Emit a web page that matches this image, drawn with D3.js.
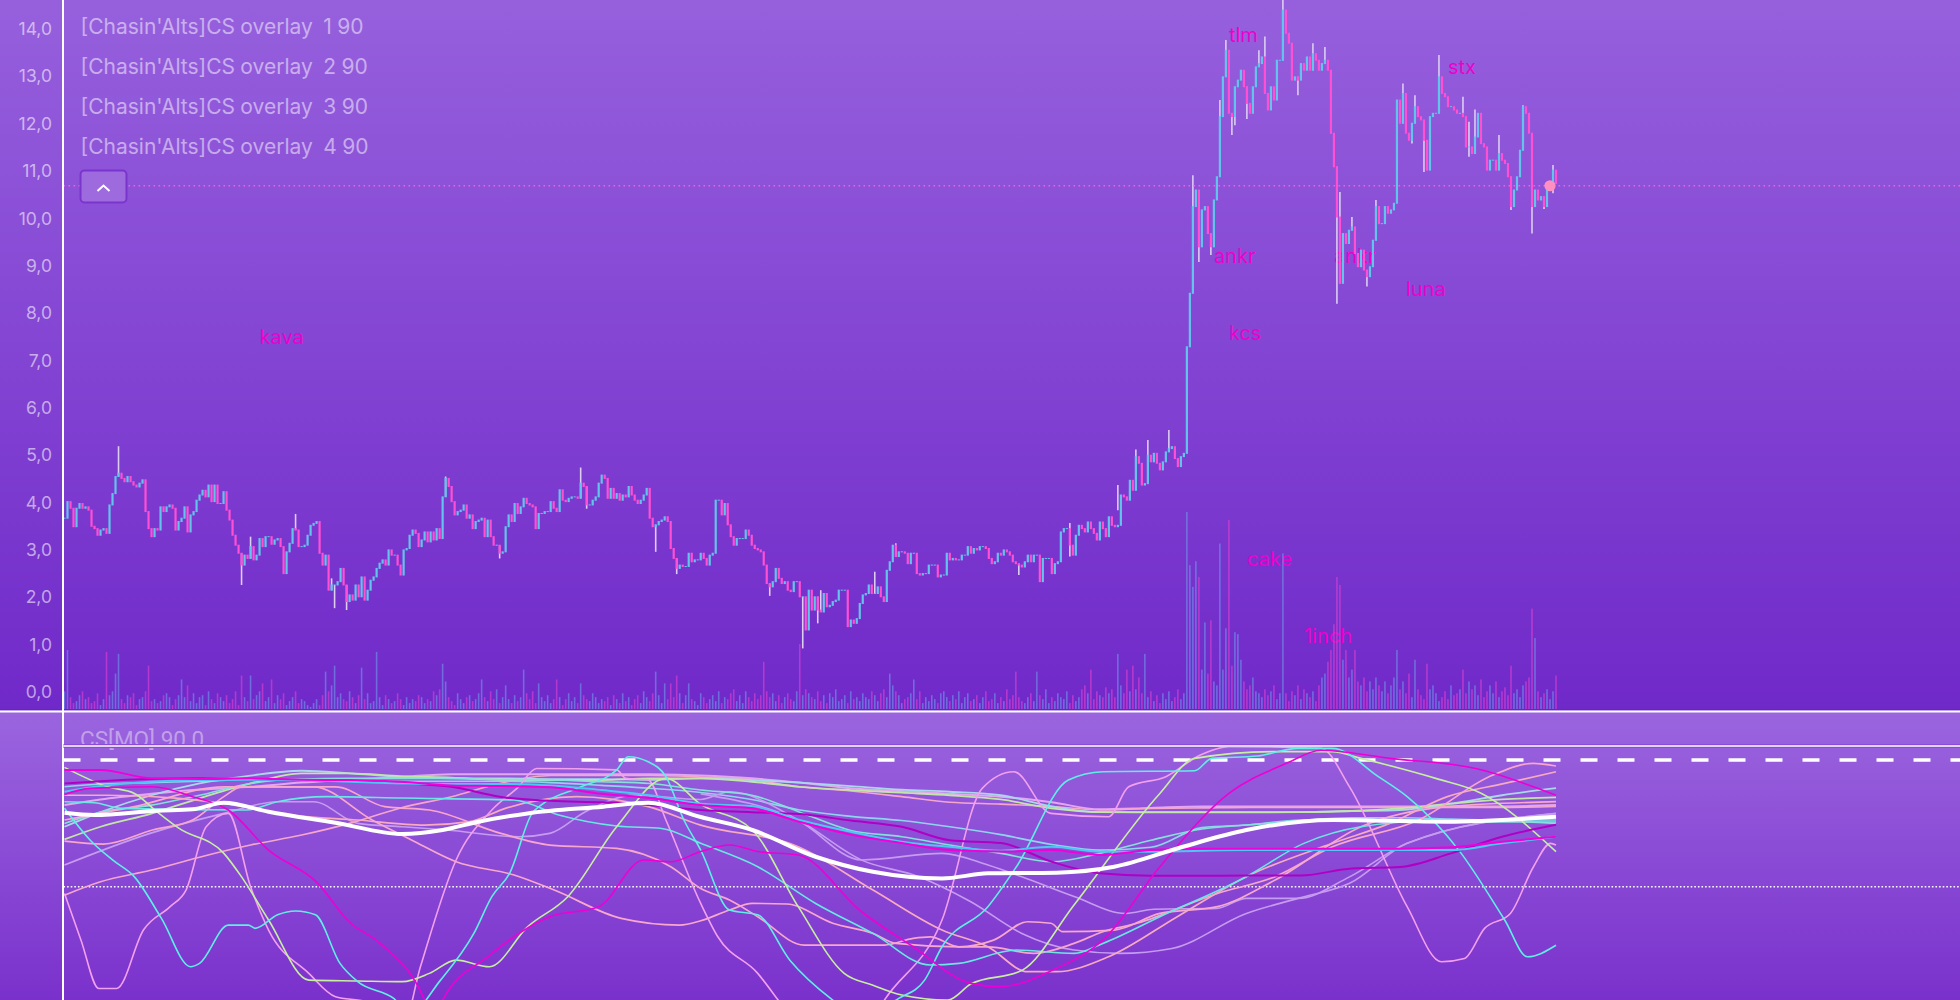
<!DOCTYPE html>
<html><head><meta charset="utf-8">
<script src="https://cdn.jsdelivr.net/npm/d3@7"></script>
<style>html,body{margin:0;padding:0;background:#7a30cc;overflow:hidden}svg{display:block}text{font-family:Inter,"Noto Sans",sans-serif}</style>
</head><body><svg id="c" width="1960" height="1000"></svg>
<script>
// ---------- data ----------
const legendNames=["[Chasin'Alts]CS overlay  1 90","[Chasin'Alts]CS overlay  2 90","[Chasin'Alts]CS overlay  3 90","[Chasin'Alts]CS overlay  4 90"];
const paneTitle="CS[MO] 90 0";
const priceTicks=[0,1,2,3,4,5,6,7,8,9,10,11,12,13,14];
const lastPrice=10.69;
const lastBar=495;
const tagNames=["kava","tlm","stx","ankr","ankr","luna","kcs","cake","1inch"];
const tagBars=[65,388,461,383,423,447,388,394,413];
const tagPrices=[7.5,13.87,13.2,9.2,9.2,8.5,7.58,2.8,1.18];

const closesA=[3.67,4.02,3.88,3.49,3.88,3.98,3.88,3.91,3.84,3.50,3.45,3.31,3.42,3.45,3.35,3.95,4.19,4.55,4.62,4.51,4.44,4.55,4.44,4.37,4.33,4.41,4.48,3.81,3.45,3.28,3.45,3.42,3.91,3.81,3.91,3.95,3.88,3.42,3.60,3.67,3.91,3.38,3.74,3.81,4.05,4.16,4.26,4.12,4.37,4.02,4.37,3.98,3.98,4.23,3.84,3.63,3.31,3.10,2.93,2.68,2.89,2.82,3.07,2.79,2.89,3.24,3.07,3.28,3.28,3.12,3.21,3.24,3.07,2.50,2.96,3.14,3.45,3.42,3.07,3.07,3.10,3.31,3.52,3.56,3.60,2.93,2.68,2.89,2.15,2.26,2.26,2.33,2.61,2.26,1.91,2.05,1.94,2.26,2.01,2.43,1.94,2.15,2.36,2.43,2.61,2.72,2.79,2.68,3.00,2.89,2.89,2.68,2.47];
const closesB=[3.00,3.03,3.31,3.42,3.35,3.07,3.21,3.38,3.17,3.38,3.21,3.45,3.24,4.12,4.51,4.34,4.02,3.74,3.81,3.84,3.95,3.67,3.74,3.45,3.60,3.63,3.67,3.28,3.63,3.28,3.10,3.10,2.93,2.96,3.49,3.74,3.60,3.98,3.77,3.91,4.09,3.98,3.95,3.91,3.45,3.77,3.77,3.81,3.81,4.02,3.88,3.81,4.27,4.05,4.02,4.09,4.12,4.12,4.09,4.41,4.34,3.95,3.95,4.05,4.12,4.41,4.58,4.51,4.09,4.30,4.09,4.19,4.05,4.16,4.12,4.34,4.16,4.05,3.98,4.05,4.16,4.30,3.67,3.49,3.53,3.60,3.63,3.70,3.60,3.03,2.82,2.61,2.68,2.65,2.65,2.93,2.75,2.79,2.79,2.93,2.82,2.68,2.89,2.93,4.05,4.05,3.74,3.98,3.53,3.28,3.10,3.24,3.24,3.24,3.42,3.31,3.10,3.03,3.00,2.96,2.68,2.29,2.22,2.33,2.61,2.40,2.29,2.33,2.15,2.12,2.33,2.33,2.01];
const closesC=[2.01,1.31,2.15,1.73,2.01,1.73,1.69,2.08,1.80,1.83,1.91,1.94,2.15,2.15,2.15,1.38,1.52,1.45,1.55,1.87,2.05,2.08,2.26,2.08,2.08,2.22,2.01,1.91,2.57,2.75,3.10,2.86,2.96,2.96,2.93,2.71,2.93,2.93,2.50,2.47,2.50,2.50,2.68,2.68,2.68,2.43,2.47,2.47,2.93,2.79,2.82,2.79,2.79,2.89,2.89,3.07,2.93,3.03,3.00,3.07,3.07,3.03,2.82,2.71,2.75,2.93,2.89,3.00,2.96,2.89,2.75,2.71,2.68,2.64,2.75,2.89,2.75,2.89,2.89,2.33,2.82,2.82,2.82,2.50,2.71,2.75,3.38,3.45,3.45,3.10,2.89,3.31,3.52,3.45,3.38,3.59,3.45,3.35,3.21,3.59,3.45,3.28,3.70,3.52,3.49,3.52,4.16,4.12,4.05,4.47,4.26,4.97,4.83,4.37,4.40,5.00,4.86,5.04,4.83,4.69,4.86,5.07,5.14,5.18,4.93,4.76,4.97,5.04];
const closesD=[7.29,8.42,10.25,10.60,9.40,10.18,10.25,9.68,9.40,10.39,10.88,12.15,12.99,13.55,12.22,12.15,12.78,12.92,13.13,12.78,12.43,12.22,12.78,13.20,13.27,13.41,12.64,12.29,12.78,12.50,13.34,13.34,14.40,13.91,13.70,12.92,12.99,12.92,13.27,13.13,13.41,13.13,13.48,13.34,13.13,13.27,13.34,13.13,11.80,11.09,10.03,8.63,9.68,9.47,9.75,9.82,9.26,8.98,9.33,8.91,8.77,8.98,9.54,10.25,9.89,9.89,10.25,10.11,10.18,10.32,12.50,12.01,12.64,11.80,11.65,12.01,12.36,12.15,12.08,11.65,11.02,12.15,12.22,12.22,12.99,12.64,12.57,12.36,12.36,12.29,12.22,12.22,12.15,11.51,11.51,11.37,11.72,12.22,11.58,11.51,11.02,11.23,11.23,11.02,11.37,11.23,11.16,10.88,10.25,10.60,10.88,11.44,12.36,12.22,11.80,10.25,10.60,10.39,10.46,10.25,10.60,10.67,11.02,10.74];

const wickBars=[18,59,62,77,89,90,94,127,145,172,174,197,204,235,246,251,252,270,277,318,335,351,357,361,368,376,378,382,385,387,389,390,394,398,400,406,411,416,420,422,424,425,429,434,437,446,449,450,453,458,466,468,470,478,482,483,486,489,493,496];
const wickHighs=[5.19,null,3.28,3.76,2.4,null,null,4.55,null,4.74,null,null,null,null,null,null,2.15,2.54,3.14,null,3.57,4.37,5.12,5.32,5.53,10.91,null,null,12.5,13.77,null,null,null,13.55,13.84,14.61,null,13.7,13.62,12.2,null,10.56,10.03,null,10.39,12.85,null,12.6,null,13.45,12.57,12.04,12.3,11.76,null,null,12.39,null,null,11.13];
const wickLows=[null,2.26,null,null,null,1.77,1.73,null,2.82,null,3.87,2.96,2.49,2.03,0.92,1.45,null,null,null,2.47,2.86,3.84,null,null,null,null,9.08,9.23,11.58,null,11.76,11.97,12.1,null,null,null,12.6,null,null,null,8.2,null,null,8.56,null,null,11.58,null,10.98,null,null,11.3,null,null,10.18,10.4,null,9.68,10.2,10.53];

const volumes=[
9,30,6,3,4,7,9,5,6,3, 4,8,2,5,29,7,9,18,28,5, 3,7,6,8,2,5,6,9,22,4, 5,3,4,7,8,6,2,5,7,15,
6,12,4,8,3,6,7,2,9,5, 3,8,6,4,7,3,5,9,2,17, 6,4,17,5,7,9,13,4,6,15, 3,7,5,8,2,4,6,9,3,5,
4,2,1,3,5,2,7,19,9,12, 22,6,8,5,4,9,6,3,7,21, 5,8,3,4,29,6,2,7,5,3, 4,8,5,2,6,3,5,4,7,6,
3,5,4,9,7,10,23,14,6,4, 2,8,5,3,6,7,4,5,8,15, 6,4,9,5,10,3,6,12,5,3, 7,4,6,20,8,5,9,3,13,6,
4,7,3,5,15,6,2,5,8,4, 6,3,13,7,5,4,8,6,3,5, 4,6,2,7,5,3,8,4,6,2, 5,7,3,9,6,4,8,19,7,3,
13,5,13,6,17,8,3,7,13,5, 4,2,8,6,3,5,7,4,9,3, 6,5,8,10,4,7,3,9,6,4, 8,5,7,24,9,6,8,4,7,3,
6,8,5,4,9,33,7,10,8,6, 5,9,4,7,3,8,6,10,4,5, 7,3,9,5,6,4,8,6,5,9, 7,4,8,10,6,18,12,9,7,3,
5,6,8,15,5,9,3,6,4,7, 5,3,8,9,6,4,7,5,9,3, 6,8,4,5,7,3,6,9,4,5, 8,3,6,4,10,5,7,19,6,4,
3,6,8,4,19,7,5,10,3,6, 4,8,6,5,9,3,7,4,6,10, 12,8,20,5,9,7,6,11,8,10, 6,28,12,8,20,9,22,10,16,8,
28,6,9,4,7,3,8,5,9,4, 6,10,5,8,100,73,62,75,67,20, 44,18,45,14,12,84,20,41,96,22, 39,38,25,14,10,12,16,9,8,6,
10,7,9,12,5,8,79,8,4,9, 7,12,5,10,8,6,9,4,12,16, 18,24,30,43,67,63,25,30,16,20, 30,14,12,16,9,14,10,16,12,9,
14,8,12,16,30,10,14,8,18,6, 25,10,7,5,23,10,12,8,4,6, 9,5,12,7,8,10,20,8,14,10, 12,7,15,6,9,12,8,14,6,9,
11,7,22,8,10,6,12,14,16,51, 36,9,6,8,10,5,9,17];

const csBars=[0,12,29,45,62,79,95,112,129,145,162,179,195,212,229,245,262,279,295,312,329,345,362,379,395,412,429,445,462,479,497];
const csOverbought=90, csOversold=0, csTop=100;
const csCyanABars=[0,8.5,16,23.3,32.3,42,45,54.6,61.3,63.5,71,77,83.6,91.8,97.7,109.7,115,125.3,136.4,142.4,148.3,155.8,158.8,172.2,184,187.8,194.5,200.4,206.4,212,221.6,231,241.7,256,263.7,278,286.6,292.4,307.7,317.2,334.5,346,376.6,382.3,397.6,411,422.5,437.8,447.4,464.6,479.9,487.5,497];
const csCyanA=[55.7,33.2,19,7,-22.5,-56.9,-54.5,-27.3,-27.3,-29.6,-20,-17.3,-20,-54.5,-67.5,-79.4,-90,-66.4,-33.2,-7.1,9.5,52.1,58,71,83,92.4,88.8,78.2,47.4,26,-16.6,-20,-52.2,-80.6,-92,-79.4,-66.4,-42.7,-14.2,14.2,75.8,81.7,82.4,91.2,92.9,98.3,98.3,78.2,64,26,-23.7,-49.8,-41.6];
const csLimeABars=[0,14.4,23.3,30.8,38.2,53.1,59,68,81.4,97.7,112.6,121.6,130.5,141.6,154.3,167.7,184,200.4,212,229.2,244.5,259.8,269.4,279,294.3,302,319.2,336.4,365,376.6,403.3,422.5,432,456.9,472.2,497];
const csLimeA=[84.8,71,66.3,53.3,41.4,23.7,7,-23.7,-66.4,-67,-67.5,-61.6,-52.2,-56.9,-28.5,-7.1,42.6,77,58.5,40.3,-14.2,-61.6,-70,-77,-80.6,-69.2,-59.3,-13,66.3,91.2,96,96,91.2,77,66.3,24.9];
const csOrchidABars=[0,5.5,11.4,17.4,26.3,35.2,40.5,47.2,54.6,62,68,81.4,90.3,100.7,106.7,112.6,118.6,130.5,142.4,151.3,157.3,184,187,194.5,200.4,212,217.7,231,237.8,244.5,267.5,273.2,292.4,305.8,316.3,328.7,347.9,354.6,367,378.5,388,418.7,428.2,447.4,458.8,466.5,473.2,481.8,489.5,495.2,497];
const csOrchidA=[-4.8,-38,-72.3,-72.3,-30.8,-14.2,-2.4,42.6,52.1,0,-30.8,-61.6,-78.2,-81.8,-100,-100,-56.9,19,54.5,71,84,83,77,75.8,47.4,-11.9,-35.6,-61.6,-80.6,-100,-100,-80.6,-23.7,69.9,81.7,52.1,49.7,71,78.2,93.6,99.5,98.3,71,-14.2,-53.3,-51,-29.6,-19,14.2,30.8,29.6];
const csMagentaABars=[0,8.5,29.3,42.7,54.6,68,84.4,94.8,105.2,120,123,126,141,161.7,178,193,202,212,221.6,231,244.5,265.6,282.8,302,311.5,330.6,346,365,388,407.2,418.7,441.6,470.3,497];
const csMagentaA=[65.6,69.9,71,64,54.5,26,2.4,-24.9,-40.3,-80.6,-97,-80.6,-49.8,-21.3,-14.2,19,17.7,25,29.6,25,22.5,-17.8,-42.7,-68.7,-71,-58,-38,14.2,66.3,87.7,97,91.2,84,65];
const csAverageBars=[0,10,30.8,42.7,53.1,68,90.3,112.6,126,137.9,154.3,179.6,194.5,212,229.2,250.3,269.4,292.4,307.7,330.6,349.8,372.7,393.8,422.5,460.8,497];
const csAverage=[52.6,51,54,55,59.7,53.3,45.5,37.4,40.3,46.2,52.1,56.9,59.7,49.5,40.3,21.3,10.6,5.9,9.5,10,14.2,28.4,40.3,47.4,46.2,49.7];
const csPeachABars=[0,13,29.3,42.7,53.1,59,90.3,106.7,121.6,145.4,161.7,184,202,212,221.6,231,246.4,273.2,282.8,288.5,298,307.7,323,336.4,346,357.4,384.2,403.4,422.5,451.2,476,489.5,497];
const csPeachA=[32.4,30.3,40.3,47.4,64,71,71,56.9,54.5,37.9,29.6,27.2,14.2,-1.2,-9.5,-21.3,-41.5,-41.5,-36.7,-35.6,-42.7,-42.7,-47.4,-40.3,-32,-26,-4.8,7.1,28.4,47.4,79.4,87.7,85.8];
const csPeachCBars=[0,14.4,38.2,53.1,75.4,97.7,120,135,146.9,170.7,194.5,212,244.5,269.4,292.4,307.7,321,330.6,347.9,370.8,393.8,422.5,441.6,460.8,479.9,497];
const csPeachC=[65,65,62.8,59.2,50.9,47.4,43.8,46.2,55.7,64,56.9,43.8,28.4,-2.4,-30.8,-42.7,-60.4,-60.4,-49.8,-21.3,7.1,30.8,45,64,73.4,81.7];
const csPeachDBars=[0,23.3,53.1,83,102.5,115.6,130.5,149.8,163.2,185.5,205,212,221.6,229.2,240.7,256,269.4,277,298,309.6,321,328.7,332.6,349.8,365,384.2,403.4,432,460.8,497];
const csPeachD=[47.4,56.9,71,71,47.4,33.2,17.7,8.3,-2.4,-22.5,-27.3,-24.2,-16.6,-11.9,-12.3,-26,-33.2,-40.3,-42.7,-38,-24.9,-26,-32,-30.8,-19,-14.2,4.7,42.6,56.9,60.4];
const csLavenderABars=[0,28.5,53.1,71,83,97.7,112.6,127.5,151.3,161.7,173.6,190,212,221.6,244.5,265.6,284.7,302,319,336.4,351.7,369,393.8,411,428.2,447.4,497];
const csLavenderA=[15.4,37.9,52.1,60.4,60.4,45,42.6,40.3,35.5,37.9,53.3,65.1,62,67.5,47.4,18.9,7.1,-10.7,-33.2,-45,-47.4,-43.9,-19,-8.3,2.4,30.8,52.1];
const csLavenderBBars=[212,244.5,265.6,292.4,307.7,319,336.4,353.7,363,384,393.8,411,428.2,447.4,497];
const csLavenderB=[66,47,19,23.7,15.4,7,-7,-19,-16,-15.4,-8.3,-8.3,7,30.8,52];
const csCyanBBars=[0,10,19,60.5,71,87.3,112.6,149.8,164.7,184,199,212,231,250.3,269.4,288.5,298,317.2,336.4,346,365,393.8,413,432,460.8,497];
const csCyanB=[60.4,59.7,55.7,54.5,60.4,64,63,61.6,50.9,43.1,41.4,30.8,14.2,-11.9,-33.2,-55.7,-54.5,-45,-47.4,-40.3,-21.3,7.1,30.8,42.6,47.4,47.4];
const csMagentaB=[83,83,77,76.5,77,76,75.8,74.6,72,71.5,70.6,66,63,58,55.7,46,37,31,26,25,26,22.5,26,27,27,27,27,27,28,32,35.5];
const csPurple=[73.4,75,76.5,77,76,75.8,75,73.6,71,64,61,60,58,54.5,53,51.6,47,42.6,33,31,17.7,9.5,7.8,7.8,8,8,13,14,23.7,35.5,44];
const csPeachB=[-6,3.5,11.8,21,29.6,36.7,45,56,64,73.4,79,79,79,78,76,71,68,64,60,58.7,57,54.5,55.7,56,56.4,56.4,56.4,56.4,56.4,56.4,57];
const csBlue=[67.5,71.5,74.6,75.8,76,75.8,74.6,73.4,73,73,72,68.7,65,59,57.3,47.4,39,32,28.4,25.6,28.4,24.9,24.9,25.6,26,26,26,26,26,30.8,35.5];
const csPaleA=[42.6,53,65,73.4,79,82.4,80.6,78,77,77,76.5,76.5,76,77,75.8,74,71.5,69,67.5,65,57,53,53,53,53,53,53.8,54.5,59,65,70];
const csLimeB=[33.6,42.6,52,62.8,73.4,80.6,80.6,78.6,77.5,76,75.8,75.8,77,77,74.6,71,68.7,66.8,65,62,55.7,53,52.8,52.8,52.8,53,53.8,55.7,59,62,63.5];
const csTealA=[45,53,58,65,73.4,76.5,77,77,77,76,75.8,74.6,73.4,68.7,65,53,40,35.5,29.6,23.7,17.7,23.7,33,41,44,47.4,48,47,46,46,46];
const csPaleB=[71,73,74,75,76,76,76,75,75,75,74,72,70,67,62,54.5,50,47,42.6,37,30,26,28,42,44,47,49,49,48,47,45];
const csOrchidB=[58,62,66,69,71,74,76,78,80,80,80,80,80,79,77,74,70,68,66,64,60,55,56,57,57,57,57,57,57,57,58];

// ---------- scales ----------
const W=1960,H=1000,paneLeft=63.5;
const closes=[].concat(closesA,closesB,closesC,closesD);
const opens=closes.map((c,i)=>i?closes[i-1]:c);
const x=d3.scaleLinear().domain([0,497]).range([64.5,1556]);
const y=d3.scaleLinear().domain([0,14]).range([692,29]);
const yVol=d3.scaleLinear().domain([0,100]).range([709,512]);
const yCs=d3.scaleLinear().domain([csTop,csOversold]).range([746,886.7]);

const svg=d3.select("#c");
const defs=svg.append("defs");
function grad(id,a,b){const g=defs.append("linearGradient").attr("id",id).attr("x1",0).attr("x2",0).attr("y1",0).attr("y2",1);
 g.append("stop").attr("offset",0).attr("stop-color",a);g.append("stop").attr("offset",1).attr("stop-color",b);}
grad("g1","#9660dd","#7029c9");grad("g2","#9b65df","#7a31cc");
defs.append("clipPath").attr("id","cp").append("rect").attr("x",paneLeft).attr("y",747).attr("width",W).attr("height",253);

svg.append("rect").attr("width",W).attr("height",710).attr("fill","url(#g1)");
svg.append("rect").attr("y",710).attr("width",W).attr("height",290).attr("fill","url(#g2)");

// y axis
const axis=d3.axisLeft(y).tickValues(priceTicks).tickSize(0).tickPadding(0).tickFormat(d=>d3.format(".1f")(d).replace(".",","));
const ax=svg.append("g").attr("transform","translate(52,0)").call(axis);
ax.select(".domain").remove();
ax.selectAll("text").attr("fill","rgba(255,255,255,.58)").style("font-size","17.5px").style("font-family","Inter");

// tags (behind the candles)
svg.append("g").selectAll("text").data(tagNames).join("text")
 .attr("x",(d,i)=>x(tagBars[i])).attr("y",(d,i)=>y(tagPrices[i])+7)
 .attr("fill","#ee00cc").style("font-size","20px").text(d=>d);

// volume
const up=i=>closes[i]>=opens[i];
svg.append("g").selectAll("rect").data(volumes).join("rect")
 .attr("x",(d,i)=>x(i)-.8).attr("width",1.6).attr("y",d=>yVol(d)).attr("height",d=>yVol(0)-yVol(d))
 .attr("fill",(d,i)=>up(i)?"#6f8fe6":"#d83fd0").attr("fill-opacity",.66);

// candles
svg.append("g").selectAll("line").data(wickBars).join("line")
 .attr("x1",d=>x(d)).attr("x2",d=>x(d))
 .attr("y1",(d,i)=>y(wickHighs[i]==null?Math.max(opens[d],closes[d]):wickHighs[i]))
 .attr("y2",(d,i)=>y(wickLows[i]==null?Math.min(opens[d],closes[d]):wickLows[i]))
 .attr("stroke","#dccdf2").attr("stroke-width",1.6);
svg.append("g").selectAll("rect").data(closes).join("rect")
 .attr("x",(d,i)=>x(i)-1.1).attr("width",2.2)
 .attr("y",(d,i)=>y(Math.max(d,opens[i]))-.5)
 .attr("height",(d,i)=>Math.abs(y(d)-y(opens[i]))+1)
 .attr("fill",(d,i)=>up(i)?"#62c4ea":"#ff4fd2");

// last price
svg.append("line").attr("x1",paneLeft).attr("x2",W).attr("y1",y(lastPrice)).attr("y2",y(lastPrice))
 .attr("stroke","#f25fe0").attr("stroke-width",1.4).attr("stroke-dasharray","1.6 3.4");
svg.append("circle").attr("cx",x(lastBar)).attr("cy",y(lastPrice)).attr("r",5.6).attr("fill","#ff8fc0");

// legend
svg.append("g").selectAll("text").data(legendNames).join("text")
 .attr("x",80.5).attr("y",(d,i)=>33.5+i*40).attr("fill","rgba(255,255,255,.52)")
 .style("font-size","21px").style("word-spacing","-.6px").style("white-space","pre").text(d=>d);

// collapse button
svg.append("rect").attr("x",80.5).attr("y",170.5).attr("width",46).attr("height",32).attr("rx",4)
 .attr("fill","#9d6bde").attr("stroke","#7a35cf").attr("stroke-width",2);
svg.append("path").attr("d","M97.5 191 L103.5 185.5 L109.5 191").attr("fill","none").attr("stroke","#fff").attr("stroke-width",2);

// separators
svg.append("rect").attr("y",709).attr("width",W).attr("height",1.5).attr("fill","#6a22c0");
svg.append("rect").attr("y",710.5).attr("width",W).attr("height",2).attr("fill","#fff");
svg.append("rect").attr("x",62).attr("y",0).attr("width",2).attr("height",H).attr("fill","#fff");

// CS pane
svg.append("text").attr("x",80).attr("y",747).attr("fill","rgba(255,255,255,.42)")
 .style("font-family","Roboto").style("font-size","22.5px").text(paneTitle);
svg.append("line").attr("x1",paneLeft).attr("x2",W).attr("y1",yCs(csTop)).attr("y2",yCs(csTop)).attr("stroke","#8a4cd8").attr("stroke-width",4);
svg.append("line").attr("x1",paneLeft).attr("x2",W).attr("y1",yCs(csTop)).attr("y2",yCs(csTop)).attr("stroke","#fff").attr("stroke-width",1.6);
svg.append("line").attr("x1",paneLeft).attr("x2",W).attr("y1",yCs(csOverbought)).attr("y2",yCs(csOverbought))
 .attr("stroke","#fff").attr("stroke-width",3.5).attr("stroke-dasharray","17 20");
svg.append("line").attr("x1",paneLeft).attr("x2",W).attr("y1",yCs(csOversold)).attr("y2",yCs(csOversold))
 .attr("stroke","#fff").attr("stroke-width",1.6).attr("stroke-dasharray","1.6 2");

const csSeries=[
 [csBars,csOrchidB,"#e3a6f2",2],[csBars,csPaleB,"#8fd4ee",1.6],[csLavenderABars,csLavenderA,"#c69cf0",1.6],[csLavenderBBars,csLavenderB,"#c69cf0",1.6],[csBars,csPeachB,"#f6a6cc",1.6],
 [csBars,csPaleA,"#a8d8ea",1.8],[csBars,csLimeB,"#c2e6a8",1.8],[csBars,csTealA,"#84e0da",1.6],[csPeachABars,csPeachA,"#f8a6cc",1.7],[csPeachCBars,csPeachC,"#f7aac0",1.7],[csPeachDBars,csPeachD,"#f8a8cc",1.7],
 [csOrchidABars,csOrchidA,"#f3a0ee",1.6],[csCyanBBars,csCyanB,"#68e8e2",1.6],[csLimeABars,csLimeA,"#c6f0a0",1.6],[csCyanABars,csCyanA,"#5ef0e6",1.6],
 [csBars,csPurple,"#b000c4",2],[csBars,csBlue,"#4cc6f2",2],[csBars,csMagentaB,"#f200da",2],[csMagentaABars,csMagentaA,"#ee00d4",1.6],
 [csAverageBars,csAverage,"#ffffff",4]
];
svg.append("g").attr("clip-path","url(#cp)").selectAll("path").data(csSeries).join("path")
 .attr("d",s=>d3.line().x((d,i)=>x(s[0][i])).y(d=>yCs(d)).curve(d3.curveMonotoneX)(s[1]))
 .attr("fill","none").attr("stroke",s=>s[2]).attr("stroke-width",s=>s[3]).attr("stroke-linejoin","round");
</script></body></html>
